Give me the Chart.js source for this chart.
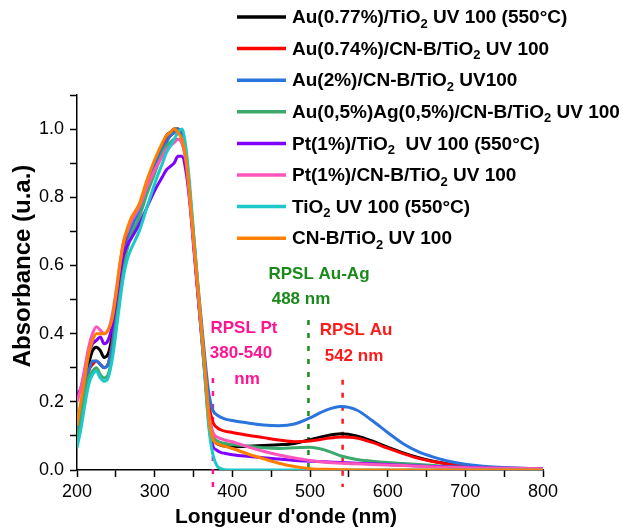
<!DOCTYPE html>
<html>
<head>
<meta charset="utf-8">
<script src="https://cdn.jsdelivr.net/npm/chart.js@4.4.0/dist/chart.umd.min.js"></script>
<style>
  html, body { margin: 0; padding: 0; background: #fff; }
  #chart { display: block; }
</style>
</head>
<body>
<canvas id="chart" width="623" height="529"></canvas>
<script>
// Longueurs d'onde communes à toutes les courbes (nm)
const wavelengths = [
  200, 205, 210, 215, 220, 225, 230, 235, 240, 245,
  250, 255, 260, 265, 270, 280, 290, 300, 310, 315,
  320, 325, 330, 335, 340, 345, 350, 355, 360, 365,
  370, 375, 380, 385, 390, 400, 420, 440, 460, 480,
  500, 520, 540, 560, 580, 600, 620, 640, 660, 680,
  700, 750, 800
];

// Absorbance
const auTiO2 = [
  0.10, 0.17, 0.25, 0.31, 0.35, 0.36, 0.35, 0.33, 0.34, 0.39,
  0.48, 0.58, 0.65, 0.69, 0.72, 0.77, 0.84, 0.90, 0.95, 0.98,
  0.99, 1.00, 1.00, 0.98, 0.92, 0.81, 0.68, 0.54, 0.41, 0.28,
  0.16, 0.095, 0.078, 0.073, 0.070, 0.068, 0.070, 0.072, 0.074, 0.078,
  0.089, 0.100, 0.106, 0.100, 0.085, 0.067, 0.050, 0.036, 0.025, 0.017,
  0.011, 0.005, 0.003
];
const auCnbTiO2 = [
  0.11, 0.17, 0.24, 0.29, 0.31, 0.32, 0.31, 0.30, 0.31, 0.37,
  0.46, 0.56, 0.64, 0.68, 0.72, 0.77, 0.84, 0.90, 0.95, 0.97,
  0.98, 0.99, 1.00, 0.98, 0.92, 0.81, 0.68, 0.55, 0.42, 0.30,
  0.19, 0.14, 0.125, 0.118, 0.114, 0.110, 0.102, 0.095, 0.088, 0.083,
  0.085, 0.092, 0.097, 0.094, 0.081, 0.064, 0.048, 0.034, 0.024, 0.016,
  0.011, 0.005, 0.003
];
const au2CnbTiO2 = [
  0.10, 0.17, 0.24, 0.29, 0.32, 0.32, 0.31, 0.30, 0.31, 0.36,
  0.45, 0.55, 0.63, 0.67, 0.71, 0.76, 0.83, 0.89, 0.94, 0.96,
  0.98, 0.99, 1.00, 0.98, 0.93, 0.82, 0.69, 0.56, 0.44, 0.32,
  0.22, 0.175, 0.162, 0.155, 0.150, 0.145, 0.138, 0.132, 0.130, 0.135,
  0.153, 0.175, 0.186, 0.176, 0.145, 0.110, 0.077, 0.053, 0.037, 0.025,
  0.017, 0.007, 0.004
];
const auAgCnbTiO2 = [
  0.09, 0.15, 0.22, 0.27, 0.29, 0.30, 0.28, 0.27, 0.28, 0.33,
  0.42, 0.52, 0.60, 0.65, 0.69, 0.74, 0.81, 0.87, 0.93, 0.95,
  0.96, 0.97, 0.97, 0.96, 0.91, 0.80, 0.67, 0.54, 0.41, 0.28,
  0.16, 0.10, 0.086, 0.081, 0.078, 0.075, 0.070, 0.065, 0.063, 0.065,
  0.067, 0.058, 0.041, 0.031, 0.026, 0.022, 0.019, 0.016, 0.013, 0.010,
  0.008, 0.005, 0.003
];
const ptTiO2 = [
  0.22, 0.24, 0.29, 0.34, 0.37, 0.38, 0.39, 0.37, 0.38, 0.42,
  0.49, 0.57, 0.63, 0.66, 0.68, 0.72, 0.77, 0.82, 0.86, 0.88,
  0.89, 0.90, 0.92, 0.92, 0.88, 0.79, 0.66, 0.53, 0.40, 0.27,
  0.13, 0.07, 0.058, 0.052, 0.049, 0.045, 0.040, 0.036, 0.032, 0.028,
  0.026, 0.024, 0.022, 0.020, 0.018, 0.016, 0.014, 0.012, 0.010, 0.009,
  0.008, 0.005, 0.004
];
const ptCnbTiO2 = [
  0.20, 0.24, 0.30, 0.36, 0.40, 0.42, 0.41, 0.40, 0.41, 0.45,
  0.52, 0.60, 0.67, 0.70, 0.73, 0.77, 0.83, 0.88, 0.92, 0.94,
  0.95, 0.96, 0.97, 0.96, 0.91, 0.80, 0.67, 0.54, 0.41, 0.28,
  0.16, 0.11, 0.097, 0.092, 0.088, 0.083, 0.068, 0.055, 0.044, 0.035,
  0.028, 0.023, 0.020, 0.018, 0.016, 0.015, 0.013, 0.011, 0.009, 0.008,
  0.007, 0.005, 0.004
];
const tiO2 = [
  0.065, 0.12, 0.19, 0.25, 0.28, 0.29, 0.27, 0.26, 0.27, 0.32,
  0.40, 0.49, 0.57, 0.62, 0.65, 0.70, 0.77, 0.84, 0.90, 0.93,
  0.95, 0.97, 0.99, 1.00, 0.95, 0.84, 0.70, 0.56, 0.41, 0.26,
  0.12, 0.045, 0.013, 0.004, 0.001, 0, 0, 0, 0, 0,
  0, 0, 0, 0, 0, 0, 0, 0, 0, 0,
  0, 0, 0
];
const cnbTiO2 = [
  0.13, 0.20, 0.27, 0.34, 0.38, 0.40, 0.40, 0.40, 0.41, 0.44,
  0.51, 0.60, 0.67, 0.71, 0.74, 0.78, 0.85, 0.91, 0.96, 0.98,
  0.99, 1.00, 0.99, 0.97, 0.92, 0.81, 0.68, 0.55, 0.42, 0.29,
  0.15, 0.09, 0.078, 0.073, 0.070, 0.063, 0.047, 0.033, 0.020, 0.010,
  0.004, 0.002, 0.001, 0, 0, 0, 0, 0, 0, 0,
  0, 0, 0
];

const seriesLabels = [
  'Au(0.77%)/TiO₂ UV 100 (550°C)',
  'Au(0.74%)/CN-B/TiO₂ UV 100',
  'Au(2%)/CN-B/TiO₂ UV100',
  'Au(0,5%)Ag(0,5%)/CN-B/TiO₂ UV 100',
  'Pt(1%)/TiO₂  UV 100 (550°C)',
  'Pt(1%)/CN-B/TiO₂ UV 100',
  'TiO₂ UV 100 (550°C)',
  'CN-B/TiO₂ UV 100'
];
const seriesValues = [auTiO2, auCnbTiO2, au2CnbTiO2, auAgCnbTiO2, ptTiO2, ptCnbTiO2, tiO2, cnbTiO2];
const seriesColors = ['#000000', '#ff0000', '#2a74de', '#3caa6c', '#8000ff', '#ff55bb', '#1cc8c8', '#ff8000'];

const FONT = '"Liberation Sans", Arial, sans-serif';
Chart.defaults.font.family = FONT;
Chart.defaults.color = '#000';

// écrit un texte en mettant le "₂" en vrai indice
function drawWithSubscript(ctx, text, x, y, size) {
  const parts = text.split('₂');
  parts.forEach((part, k) => {
    ctx.font = 'bold ' + size + 'px ' + FONT;
    ctx.fillText(part, x, y);
    x += ctx.measureText(part).width;
    if (k < parts.length - 1) {
      ctx.font = 'bold ' + Math.round(size * 0.68) + 'px ' + FONT;
      ctx.fillText('2', x, y + size * 0.32);
      x += ctx.measureText('2').width;
    }
  });
}

// Légende dessinée à la main, par-dessus le graphe comme dans Origin
const customLegend = {
  id: 'customLegend',
  afterDraw(chart) {
    const ctx = chart.ctx;
    ctx.save();
    ctx.textBaseline = 'middle';
    chart.data.datasets.forEach((ds, i) => {
      const y = 17 + i * 31.6;
      ctx.strokeStyle = ds.borderColor;
      ctx.lineWidth = 3.5;
      ctx.beginPath();
      ctx.moveTo(237, y);
      ctx.lineTo(286, y);
      ctx.stroke();
      ctx.fillStyle = '#000';
      drawWithSubscript(ctx, ds.label, 292, y + 1, 19);
    });
    ctx.restore();
  }
};

// Lignes pointillées des bandes plasmon + textes
const annotations = {
  id: 'annotations',
  beforeDatasetsDraw(chart) {
    const ctx = chart.ctx;
    const xs = chart.scales.x, ys = chart.scales.y;
    const marks = [
      { nm: 375, from: 0.27, to: -0.05, color: '#ff1493' },
      { nm: 498, from: 0.44, to: 0, color: '#1a8a1a' },
      { nm: 542, from: 0.265, to: -0.05, color: '#ff1a1a' }
    ];
    ctx.save();
    ctx.lineWidth = 2.5;
    ctx.setLineDash([5, 8]);
    marks.forEach(m => {
      ctx.strokeStyle = m.color;
      ctx.beginPath();
      ctx.moveTo(xs.getPixelForValue(m.nm), ys.getPixelForValue(m.from));
      ctx.lineTo(xs.getPixelForValue(m.nm), ys.getPixelForValue(m.to));
      ctx.stroke();
    });
    ctx.restore();
  },
  afterDraw(chart) {
    const ctx = chart.ctx;
    ctx.save();
    ctx.font = 'bold 17px ' + FONT;
    ctx.textAlign = 'center';
    ctx.textBaseline = 'middle';
    const texts = [
      ['RPSL Au-Ag', 319, 274, '#1a8a1a'],
      ['488 nm', 301, 299, '#1a8a1a'],
      ['RPSL Pt', 244, 328, '#ff1493'],
      ['380-540', 241, 353, '#ff1493'],
      ['nm', 247, 379, '#ff1493'],
      ['RPSL Au', 356, 330, '#ff1a1a'],
      ['542 nm', 354, 356, '#ff1a1a']
    ];
    texts.forEach(t => {
      ctx.fillStyle = t[3];
      ctx.fillText(t[0], t[1], t[2]);
    });
    // titres des axes
    ctx.fillStyle = '#000';
    ctx.font = 'bold 21px ' + FONT;
    ctx.fillText("Longueur d'onde (nm)", 286, 517);
    ctx.font = 'bold 24px ' + FONT;
    ctx.translate(23, 266);
    ctx.rotate(-Math.PI / 2);
    ctx.fillText('Absorbance (u.a.)', 0, 0);
    ctx.restore();
  }
};

const ctx = document.getElementById('chart').getContext('2d');
new Chart(ctx, {
  type: 'line',
  data: {
    datasets: seriesLabels.map((label, i) => ({
      label: label,
      data: wavelengths.map((w, j) => ({ x: w, y: seriesValues[i][j] })),
      borderColor: seriesColors[i],
      backgroundColor: seriesColors[i],
      borderWidth: 3,
      pointRadius: 0,
      cubicInterpolationMode: 'monotone',
      order: seriesLabels.length - i // la dernière série passe devant
    }))
  },
  options: {
    responsive: false,
    animation: false,
    layout: { padding: { left: 0, top: 95, right: 80, bottom: 0 } },
    plugins: {
      legend: { display: false },
      tooltip: { enabled: false }
    },
    scales: {
      x: {
        type: 'linear',
        min: 200,
        max: 800,
        afterFit: s => { s.height = 59; },
        border: { color: '#000', width: 1.5 },
        grid: { drawOnChartArea: false, color: '#000', tickLength: 7, tickWidth: 1.5 },
        ticks: {
          stepSize: 50,
          autoSkip: false,
          maxRotation: 0,
          padding: 4,
          font: { size: 18 },
          callback: v => (v % 100 === 0 ? String(v) : '')
        }
      },
      y: {
        min: 0,
        max: 1.1,
        afterFit: s => { s.width = 77; },
        border: { color: '#000', width: 1.5 },
        grid: { drawOnChartArea: false, color: '#000', tickLength: 7, tickWidth: 1.5 },
        ticks: {
          stepSize: 0.1,
          autoSkip: false,
          padding: 6,
          font: { size: 18 },
          callback: v => {
            const k = Math.round(v * 10);
            return (k % 2 === 0 && k <= 10) ? (k / 10).toFixed(1) : '';
          }
        }
      }
    }
  },
  plugins: [annotations, customLegend]
});
</script>
</body>
</html>
